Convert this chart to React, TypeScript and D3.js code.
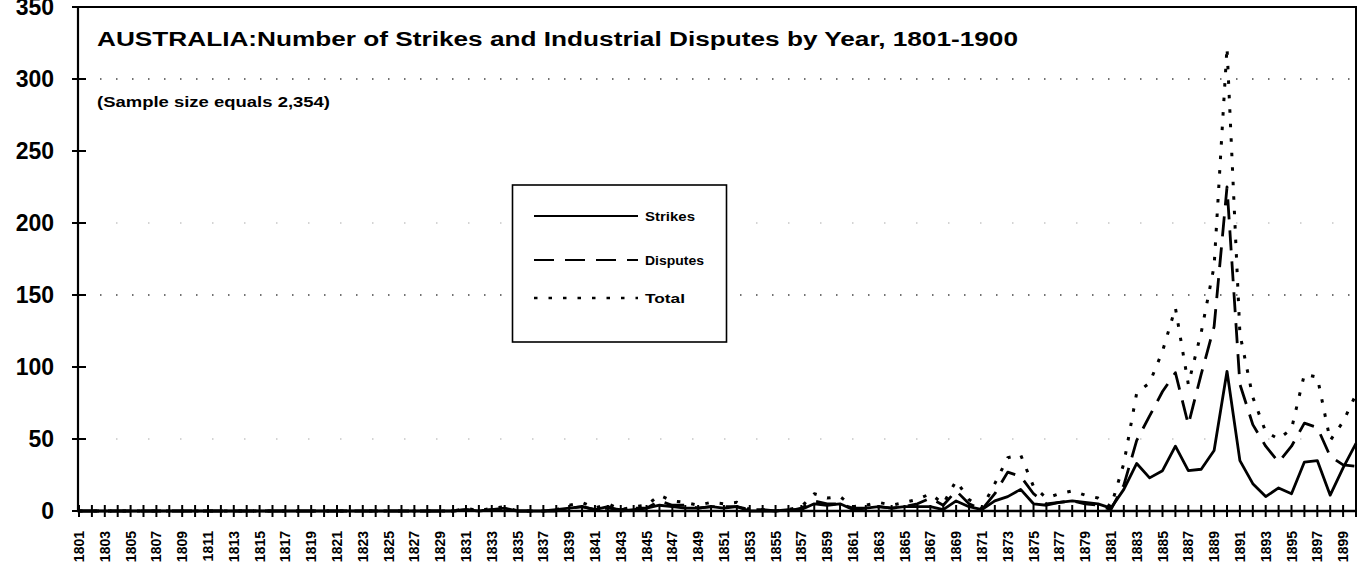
import React, { useEffect, useRef } from "react";
import * as d3 from "d3";

const years: number[] = d3.range(1801, 1901);

const strikes: number[] = [
  0, 0, 0, 0, 0, 0, 0, 0, 0, 0,
  0, 0, 0, 0, 0, 0, 0, 0, 0, 0,
  0, 0, 0, 0, 0, 0, 0, 0, 0,
  0, 1, 0, 1, 2, 0, 0, 0, 1, 2,
  3, 1, 3, 0, 1, 2, 4, 3, 2, 2,
  3, 2, 3, 0, 0, 0, 1, 1, 5, 4,
  5, 1, 2, 3, 2, 3, 3, 3, 1, 7,
  3, 1, 7, 10, 15, 5, 4, 6, 7, 6,
  5, 2, 15, 33, 23, 28, 45, 28, 29, 42,
  97, 35, 19, 10, 16, 12, 34, 35, 11, 30, 47,
];

const disputes: number[] = [
  0, 0, 0, 0, 0, 0, 0, 0, 0, 0,
  0, 0, 0, 0, 0, 0, 0, 0, 0, 0,
  0, 0, 0, 0, 0, 0, 0, 0, 0,
  0, 1, 0, 1, 1, 0, 0, 0, 0, 2,
  3, 1, 2, 1, 2, 2, 7, 4, 4, 2,
  3, 3, 3, 1, 1, 0, 0, 2, 7, 5,
  5, 2, 2, 3, 2, 3, 5, 9, 4, 14,
  5, 1, 12, 27, 24, 12, 5, 6, 7, 5,
  4, 1, 18, 49, 66, 83, 96, 60, 95, 128,
  225, 88, 60, 45, 34, 45, 61, 58, 38, 32, 31,
];

const totals: number[] = [
  0, 0, 0, 0, 0, 0, 0, 0, 0, 0,
  0, 0, 0, 0, 0, 0, 0, 0, 0, 0,
  0, 0, 0, 0, 0, 0, 0, 0, 0,
  0, 2, 0, 2, 3, 0, 0, 0, 1, 4,
  6, 2, 5, 1, 3, 4, 11, 7, 6, 4,
  6, 5, 6, 1, 1, 0, 1, 3, 12, 9,
  10, 3, 4, 6, 4, 6, 8, 12, 5, 21,
  8, 2, 19, 37, 39, 17, 9, 12, 14, 11,
  9, 3, 33, 82, 89, 111, 141, 88, 124, 170,
  322, 123, 79, 55, 50, 57, 95, 93, 49, 62, 81,
];

const yTicks: number[] = [0, 50, 100, 150, 200, 250, 300, 350];
const gridStrong: number[] = [150, 300];
const gridFaint: number[] = [50, 200];

const title = "AUSTRALIA:Number of Strikes and Industrial Disputes by Year, 1801-1900";
const subtitle = "(Sample size equals 2,354)";
const seriesNames = ["Strikes", "Disputes", "Total"];

const W = 1359;
const H = 571;
const FONT = "'Liberation Sans', Arial, Helvetica, sans-serif";

export default function App() {
  const ref = useRef<SVGSVGElement | null>(null);

  useEffect(() => {
    const svg = d3.select(ref.current);
    svg.selectAll("*").remove();

    const x = d3.scalePoint<number>().domain(years).range([79, 1356]);
    const y = d3.scaleLinear().domain([0, 350]).range([511, 7]);

    // gridlines
    const g = svg.append("g");
    gridStrong.forEach((v) => {
      g.append("line")
        .attr("x1", 84).attr("x2", 1350)
        .attr("y1", y(v)).attr("y2", y(v))
        .attr("stroke", "#444").attr("stroke-width", 1.3)
        .attr("stroke-dasharray", "1.5,14.5");
    });
    gridFaint.forEach((v) => {
      g.append("line")
        .attr("x1", 84).attr("x2", 1350)
        .attr("y1", y(v)).attr("y2", y(v))
        .attr("stroke", "#aaa").attr("stroke-width", 1.2)
        .attr("stroke-dasharray", "1.5,30.5");
    });

    // frame
    svg.append("line").attr("x1", 78).attr("x2", 1357).attr("y1", y(350)).attr("y2", y(350))
      .attr("stroke", "#000").attr("stroke-width", 2);
    svg.append("line").attr("x1", 1356).attr("x2", 1356).attr("y1", y(350)).attr("y2", y(0))
      .attr("stroke", "#000").attr("stroke-width", 2);
    svg.append("line").attr("x1", 78).attr("x2", 78).attr("y1", y(350)).attr("y2", y(0) + 1)
      .attr("stroke", "#000").attr("stroke-width", 2.2);
    svg.append("line").attr("x1", 77).attr("x2", 1357).attr("y1", y(0)).attr("y2", y(0))
      .attr("stroke", "#000").attr("stroke-width", 2.5);

    // y ticks & labels
    const ya = svg.append("g");
    yTicks.forEach((v) => {
      ya.append("line").attr("x1", 72).attr("x2", 86).attr("y1", y(v)).attr("y2", y(v))
        .attr("stroke", "#000").attr("stroke-width", 2);
      ya.append("text")
        .attr("x", 54).attr("y", y(v)).attr("dy", "0.36em")
        .attr("text-anchor", "end")
        .attr("font-family", FONT).attr("font-weight", "bold").attr("font-size", 23)
        .text(String(v));
    });

    // x ticks & labels
    const xa = svg.append("g");
    years.forEach((yr, i) => {
      xa.append("line").attr("x1", x(yr)!).attr("x2", x(yr)!).attr("y1", y(0) - 6).attr("y2", y(0) + 6)
        .attr("stroke", "#000").attr("stroke-width", 2);
      if (i % 2 === 0) {
        xa.append("text")
          .attr("transform", `translate(${x(yr)},${531}) rotate(-90)`)
          .attr("dy", "0.36em")
          .attr("text-anchor", "end")
          .attr("font-family", FONT).attr("font-weight", "bold").attr("font-size", 14)
          .text(String(yr));
      }
    });

    // lines
    const line = d3.line<number>().x((_, i) => x(years[i])!).y((d) => y(d));
    const styles = [
      { data: strikes, dash: null, w: 2.8 },
      { data: disputes, dash: "20,11", w: 2.8 },
      { data: totals, dash: "3.5,11", w: 3 },
    ];
    styles.forEach((s) => {
      const p = svg.append("path")
        .attr("d", line(s.data))
        .attr("fill", "none").attr("stroke", "#000").attr("stroke-width", s.w)
        .attr("stroke-linejoin", "round");
      if (s.dash) p.attr("stroke-dasharray", s.dash);
    });

    // title
    svg.append("text").attr("x", 97).attr("y", 46)
      .attr("font-family", FONT).attr("font-weight", "bold").attr("font-size", 19.5)
      .attr("textLength", 921).attr("lengthAdjust", "spacingAndGlyphs")
      .text(title);
    svg.append("text").attr("x", 97).attr("y", 107)
      .attr("font-family", FONT).attr("font-weight", "bold").attr("font-size", 15)
      .attr("textLength", 233).attr("lengthAdjust", "spacingAndGlyphs")
      .text(subtitle);

    // legend
    const lg = svg.append("g");
    lg.append("rect").attr("x", 512.5).attr("y", 185).attr("width", 214).attr("height", 157)
      .attr("fill", "#fff").attr("stroke", "#000").attr("stroke-width", 1.6);
    const ly = [216, 260, 298];
    const lw = [50, 59, 40];
    const dashes = [null, "20,11", "3.5,11"];
    seriesNames.forEach((n, i) => {
      const l = lg.append("line").attr("x1", 534).attr("x2", 638).attr("y1", ly[i]).attr("y2", ly[i])
        .attr("stroke", "#000").attr("stroke-width", i === 2 ? 2.4 : 1.8);
      if (dashes[i]) l.attr("stroke-dasharray", dashes[i]!);
      lg.append("text").attr("x", 645).attr("y", ly[i]).attr("dy", "0.36em")
        .attr("font-family", FONT).attr("font-weight", "bold").attr("font-size", 13)
        .attr("textLength", lw[i]).attr("lengthAdjust", "spacingAndGlyphs")
        .text(n);
    });
  }, []);

  return (
    <svg
      ref={ref}
      width={W}
      height={H}
      viewBox={`0 0 ${W} ${H}`}
      style={{ position: "absolute", left: 0, top: 0, background: "#fff" }}
    />
  );
}
